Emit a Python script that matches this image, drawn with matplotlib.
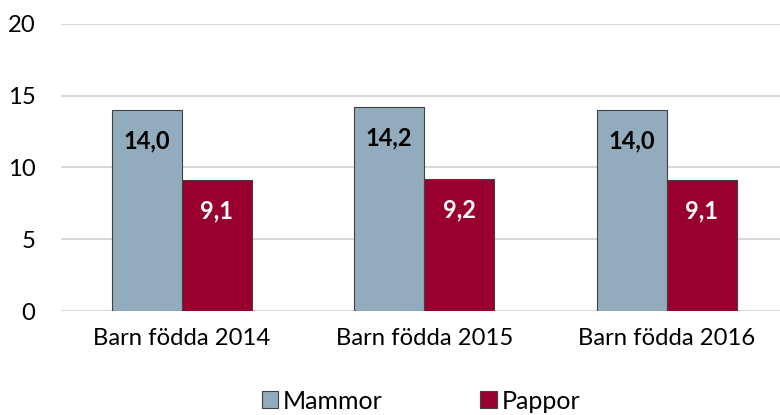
import numpy as np
import matplotlib.pyplot as plt

categories = ["Barn födda 2014", "Barn födda 2015", "Barn födda 2016"]
mammor = [14.0, 14.2, 14.0]
pappor = [9.1, 9.2, 9.1]
series_names = ["Mammor", "Pappor"]
colors = ["#93acbd", "#990030"]

plt.rcParams["font.family"] = ["Lato", "DejaVu Sans"]

fig = plt.figure(figsize=(7.8, 4.15), dpi=100)
ax = fig.add_axes([60.5 / 780, 1 - 311 / 415, 727.5 / 780, 287 / 415])

x = np.arange(len(categories))
w = 0.289
b1 = ax.bar(x - w / 2, mammor, w, color=colors[0], edgecolor="#404040", linewidth=0.8,
            label=series_names[0], zorder=3)
b2 = ax.bar(x + w / 2, pappor, w, color=colors[1], edgecolor="#404040", linewidth=0.8,
            label=series_names[1], zorder=3)

for bars, vals, tc in [(b1, mammor, "black"), (b2, pappor, "white")]:
    for rect, v in zip(bars, vals):
        ax.annotate(f"{v:.1f}".replace(".", ","),
                    (rect.get_x() + rect.get_width() / 2, v),
                    xytext=(0, -31), textcoords="offset pixels",
                    ha="center", va="center", fontsize=17, fontweight="bold",
                    color=tc, zorder=4)

ax.set_xlim(-0.5, 2.5)
ax.set_ylim(0, 20)
ax.set_yticks([0, 5, 10, 15, 20])
ax.set_xticks(x)
ax.set_xticklabels(categories)
ax.yaxis.grid(True, color="#d9d9d9", linewidth=1.5, zorder=0)
ax.set_axisbelow(True)
for s in ax.spines.values():
    s.set_visible(False)
ax.tick_params(axis="both", length=0, labelsize=17.2, colors="#000000")
ax.tick_params(axis="y", pad=18)
ax.tick_params(axis="x", pad=12)

fig.legend(handles=[b1, b2], loc="center", bbox_to_anchor=(421 / 780, 1 - 401 / 415),
           ncol=2, frameon=False, fontsize=18, handlelength=0.65, handleheight=0.65,
           handletextpad=0.2, columnspacing=3.9)

fig.savefig("out.png", dpi=100)
